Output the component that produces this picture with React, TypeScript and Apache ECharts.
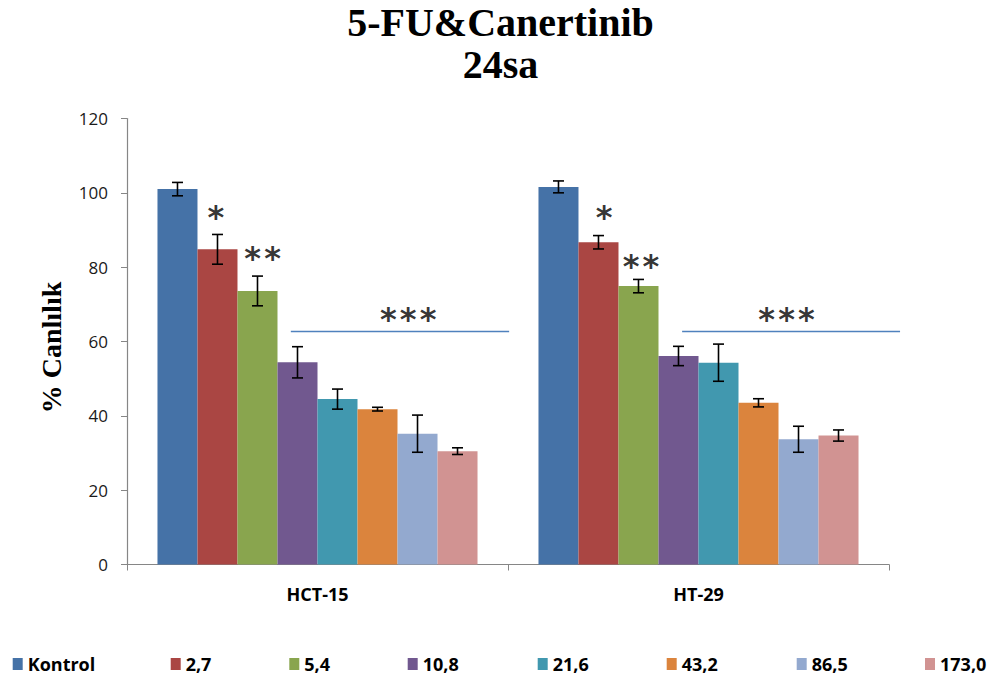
import React, { useEffect, useRef } from "react";
import * as echarts from "echarts";

const categories = ["HCT-15", "HT-29"];
const seriesNames = ["Kontrol", "2,7", "5,4", "10,8", "21,6", "43,2", "86,5", "173,0"];
const colors = ["#4572A7", "#AA4643", "#89A54E", "#71588F", "#4198AF", "#DB843D", "#93A9CF", "#D19392"];
// values per series: [HCT-15, HT-29]
const values = [
  [101.0, 101.6],
  [84.8, 86.7],
  [73.6, 74.9],
  [54.4, 56.1],
  [44.5, 54.3],
  [41.8, 43.5],
  [35.2, 33.7],
  [30.5, 34.7],
];
// error half-widths per series: [HCT-15, HT-29]
const errors = [
  [1.8, 1.6],
  [4.0, 1.8],
  [4.0, 1.8],
  [4.2, 2.6],
  [2.7, 5.0],
  [0.5, 1.1],
  [5.0, 3.5],
  [0.9, 1.5],
];
const yTicks = { min: 0, max: 120, interval: 20 };
const titleLines = ["5-FU&Canertinib", "24sa"];

// significance annotations (x in category-width units, y in axis value)
const starLabels = ["*", "*\u200A*", "*\u200A*\u200A*", "*", "*\u200A*", "*\u200A*\u200A*"];
const starX = [0.233, 0.356, 0.738, 1.252, 1.349, 1.731];
const starY = [93.4, 82.6, 66.0, 93.4, 80.2, 66.0];
const sigLineX = [
  [0.43, 1.003],
  [1.457, 2.029],
];
const sigLineY = 62.7;

const legendLeft = [12.7, 170.7, 289.3, 407.7, 537.7, 666.7, 796.7, 925];

const CAT_GAP = 0.16;

export default function App() {
  const ref = useRef<HTMLDivElement>(null);
  useEffect(() => {
    if (!ref.current) return;
    const chart = echarts.init(ref.current, null, { renderer: "svg" });
    const n = seriesNames.length;

    const barSeries = seriesNames.map((name, i) => ({
      name,
      type: "bar",
      xAxisIndex: 0,
      yAxisIndex: 0,
      barGap: "0%",
      barCategoryGap: "16%",
      itemStyle: { color: colors[i] },
      data: values[i],
      z: 2,
    }));

    const errSeries = seriesNames.map((name, i) => ({
      name: "err-" + name,
      type: "custom",
      xAxisIndex: 0,
      yAxisIndex: 0,
      z: 5,
      encode: { x: 0, y: [1, 2] },
      data: categories.map((_, c) => [c, values[i][c] - errors[i][c], values[i][c] + errors[i][c]]),
      renderItem: (params: any, api: any) => {
        const c = api.value(0);
        const lo = api.coord([c, api.value(1)]);
        const hi = api.coord([c, api.value(2)]);
        const band = api.size([1, 0])[0];
        const bw = (band * (1 - CAT_GAP)) / n;
        const x = lo[0] - (band * (1 - CAT_GAP)) / 2 + bw * (i + 0.5);
        const cap = 5.5;
        const style = { stroke: "#000", lineWidth: 1.6 };
        return {
          type: "group",
          children: [
            { type: "line", shape: { x1: x, y1: lo[1], x2: x, y2: hi[1] }, style },
            { type: "line", shape: { x1: x - cap, y1: lo[1], x2: x + cap, y2: lo[1] }, style },
            { type: "line", shape: { x1: x - cap, y1: hi[1], x2: x + cap, y2: hi[1] }, style },
          ],
        };
      },
    }));

    const sigLines = {
      name: "sig",
      type: "custom",
      xAxisIndex: 1,
      yAxisIndex: 0,
      clip: false,
      z: 4,
      encode: { x: [0, 1], y: 2 },
      data: sigLineX.map((xs) => [xs[0], xs[1], sigLineY]),
      renderItem: (params: any, api: any) => {
        const a = api.coord([api.value(0), api.value(2)]);
        const b = api.coord([api.value(1), api.value(2)]);
        return {
          type: "line",
          shape: { x1: a[0], y1: a[1], x2: b[0], y2: b[1] },
          style: { stroke: "#4F81BD", lineWidth: 1.5 },
        };
      },
    };

    const stars = {
      name: "stars",
      type: "scatter",
      xAxisIndex: 1,
      yAxisIndex: 0,
      symbolSize: 0,
      clip: false,
      data: starX.map((x, k) => ({ value: [x, starY[k]], label: { formatter: starLabels[k] } })),
      label: {
        show: true,
        position: "inside",
        fontFamily: "DejaVu Sans",
        fontWeight: "bold",
        fontSize: 32,
        color: "#000",
      },
      z: 6,
    };

    const legends = seriesNames.map((name, i) => ({
      data: [name],
      left: legendLeft[i],
      top: 655,
      padding: 0,
      itemWidth: 10,
      itemHeight: 12,
      icon: "rect",
      selectedMode: false,
      textStyle: { fontFamily: "Open Sans", fontWeight: "bold", fontSize: 18, color: "#000" },
    }));

    chart.setOption({
      animation: false,
      title: {
        text: titleLines.join("\n"),
        left: "center",
        top: 1,
        padding: 0,
        textStyle: {
          fontFamily: "Liberation Serif",
          fontWeight: "bold",
          fontSize: 40,
          lineHeight: 42,
          color: "#000",
        },
      },
      legend: legends,
      grid: { left: 127, right: 112, top: 118.5, bottom: 116.5 },
      xAxis: [
        {
          type: "category",
          data: categories,
          axisLine: { show: true, lineStyle: { color: "#868686", width: 1.2 } },
          axisTick: { show: true, length: 6, lineStyle: { color: "#868686" } },
          axisLabel: {
            margin: 20,
            fontFamily: "Open Sans",
            fontWeight: "bold",
            fontSize: 18,
            color: "#000",
          },
        },
        { type: "value", min: 0, max: 2, show: false },
      ],
      yAxis: {
        type: "value",
        min: yTicks.min,
        max: yTicks.max,
        interval: yTicks.interval,
        name: "% Canlılık",
        nameLocation: "middle",
        nameRotate: 90,
        nameGap: 62,
        nameTextStyle: {
          fontFamily: "Liberation Serif",
          fontWeight: "bold",
          fontSize: 28,
          color: "#000",
          padding: [0, 12, 0, 0],
        },
        axisLine: { show: true, lineStyle: { color: "#868686", width: 1.2 } },
        axisTick: { show: true, length: 6, lineStyle: { color: "#868686" } },
        splitLine: { show: false },
        axisLabel: { margin: 19, fontFamily: "Open Sans", fontSize: 17, color: "#1a1a1a" },
      },
      series: [...barSeries, ...errSeries, sigLines, stars],
    });
    return () => chart.dispose();
  }, []);
  return <div ref={ref} style={{ width: 1001, height: 681, margin: -8 }} />;
}
